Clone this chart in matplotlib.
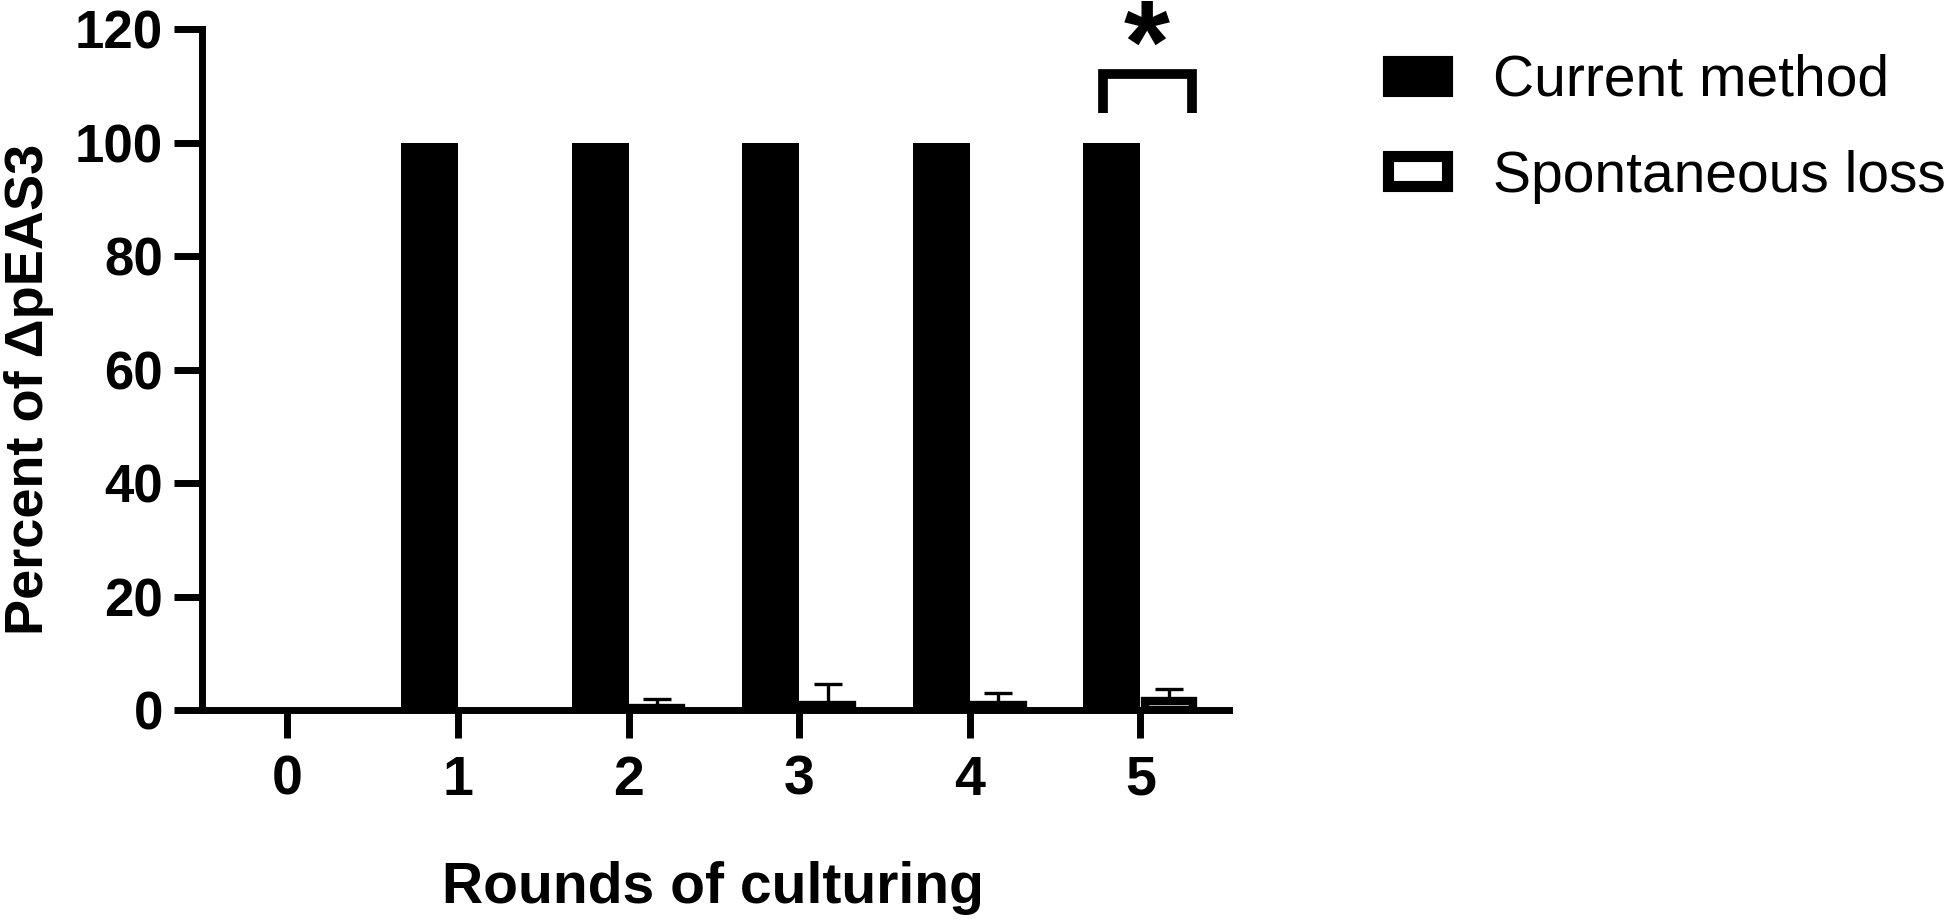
import matplotlib
matplotlib.use("Agg")
import matplotlib.pyplot as plt
import matplotlib.patches as mpatches
import numpy as np

plt.rcParams['font.family'] = ['Liberation Sans', 'DejaVu Sans']

# data
rounds = [0, 1, 2, 3, 4, 5]
current_method = [0, 100, 100, 100, 100, 100]
spontaneous_loss = [0, 0, 0.4, 0.9, 0.9, 1.6]
spontaneous_err = [0, 0, 1.6, 3.8, 2.2, 2.2]
series_names = ['Current method', 'Spontaneous loss']
yticks = [0, 20, 40, 60, 80, 100, 120]

fig = plt.figure(figsize=(19.5, 9.19), dpi=100)
ax = fig.add_axes([0.1036, 0.2269, 0.5267, 0.7415])

x = np.arange(len(rounds))
w = 0.334
lw_axis = 5

ax.bar(x - w / 2, current_method, width=w, color='black', linewidth=0, zorder=2)
# thick outline on the open bars, like the legend key
edge_w = [0 if v == 0 else 6 for v in spontaneous_loss]
ax.bar(x + w / 2, spontaneous_loss, width=0.285, color='white', edgecolor='black',
       linewidth=edge_w, zorder=2)
lower = np.zeros(len(rounds))
ax.errorbar(x + w / 2, spontaneous_loss, yerr=[lower, spontaneous_err], fmt='none',
            ecolor='black', elinewidth=2.4, capsize=10, capthick=2.4, zorder=3)

ax.set_xlim(-0.5, 5.52)
ax.set_ylim(0, 120)
ax.set_yticks(yticks)
ax.set_xticks(x)
ax.set_xticklabels([str(r) for r in rounds])

for s in ['top', 'right']:
    ax.spines[s].set_visible(False)
for s in ['left', 'bottom']:
    ax.spines[s].set_linewidth(lw_axis)
    ax.spines[s].set_capstyle('projecting')
    ax.spines[s].set_zorder(4)

ax.tick_params(axis='both', length=20, width=lw_axis)
ax.tick_params(axis='y', pad=8, labelsize=38)
ax.tick_params(axis='x', pad=12, labelsize=40)
for lab in ax.get_xticklabels() + ax.get_yticklabels():
    lab.set_fontweight('bold')

ax.set_xlabel('Rounds of culturing', fontsize=41, fontweight='bold')
ax.xaxis.set_label_coords(0.4975, -0.221)
ax.set_ylabel('Percent of ΔpEAS3', fontsize=39, fontweight='bold')
ax.yaxis.set_label_coords(-0.144, 0.471)

# significance bracket at round 5
bx = [4.78, 4.78, 5.305, 5.305]
by = [105.3, 112, 112, 105.3]
ax.plot(bx, by, color='black', linewidth=7, solid_joinstyle='miter',
        solid_capstyle='butt', clip_on=False)
ax.text(5.035, 110.6, '*', ha='center', va='baseline', fontsize=85,
        fontweight='bold', clip_on=False)

handles = [mpatches.Patch(facecolor='black', edgecolor='black', linewidth=8,
                          label=series_names[0]),
           mpatches.Patch(facecolor='white', edgecolor='black', linewidth=8,
                          label=series_names[1])]
fig.legend(handles=handles, loc='upper left', bbox_to_anchor=(1388 / 1950, 1 - 54 / 919),
           frameon=False, fontsize=41, handlelength=1.03, handleheight=0.44,
           handletextpad=0.82, labelspacing=0.73, borderpad=0, borderaxespad=0)

fig.savefig('out.png', dpi=100)
